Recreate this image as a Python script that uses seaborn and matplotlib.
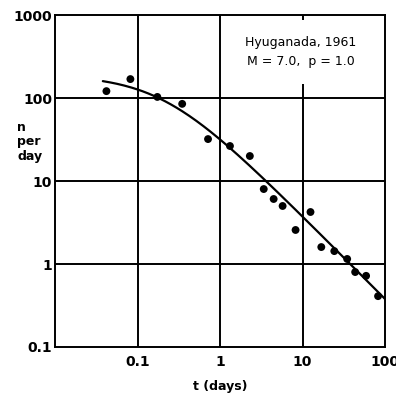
import numpy as np
import pandas as pd
import matplotlib
matplotlib.use("Agg")
import matplotlib.pyplot as plt
import seaborn as sns

# Aftershock counts per day after the 1961 Hyuganada earthquake
days = [0.042, 0.082, 0.174, 0.348, 0.716, 1.32, 2.3, 3.39, 4.47, 5.74,
        8.24, 12.5, 16.9, 24.3, 34.8, 43.5, 59.0, 82.4]
per_day = [121, 169, 103, 85, 32, 26.4, 20, 8.0, 6.07, 5.0,
           2.57, 4.23, 1.6, 1.43, 1.15, 0.80, 0.72, 0.41]

# Modified Omori law n(t) = K / (t + c)^p
omori_K = 38.0
omori_c = 0.20
omori_p = 1.0
curve_start, curve_end = 0.038, 100.0

x_ticks = [0.1, 1, 10, 100]
x_tick_labels = ["0.1", "1", "10", "100"]
y_ticks = [0.1, 1, 10, 100, 1000]
y_tick_labels = ["0.1", "1", "10", "100", "1000"]

sns.set_theme(style="white")
plt.rcParams["font.family"] = ["DejaVu Sans"]
plt.rcParams["text.color"] = "black"
plt.rcParams["axes.labelcolor"] = "black"

fig = plt.figure(figsize=(3.96, 3.96), dpi=100)
ax = fig.add_axes([55 / 396, 1 - 347 / 396, 330 / 396, 332 / 396])

pts = pd.DataFrame({"t": days, "n": per_day})
t_curve = np.logspace(np.log10(curve_start), np.log10(curve_end), 200)
fit = pd.DataFrame({"t": t_curve,
                    "n": omori_K / (t_curve + omori_c) ** omori_p})

ax.set_xscale("log")
ax.set_yscale("log")
ax.set_xlim(0.01, 100)
ax.set_ylim(0.1, 1000)

# grid lines at each decade
for xv in [0.1, 1, 10]:
    ax.axvline(xv, color="black", lw=1.4, zorder=1)
for yv in [1, 10, 100]:
    ax.axhline(yv, color="black", lw=1.4, zorder=1)

sns.lineplot(data=fit, x="t", y="n", ax=ax, color="black", lw=1.6,
             zorder=3, estimator=None)
sns.scatterplot(data=pts, x="t", y="n", ax=ax, color="black", s=32,
                edgecolor="none", zorder=4)

ax.set_xticks(x_ticks)
ax.set_xticklabels(x_tick_labels)
ax.set_yticks(y_ticks)
ax.set_yticklabels(y_tick_labels)
ax.minorticks_off()
ax.tick_params(axis="both", length=0, labelsize=10, colors="black")
ax.tick_params(axis="x", pad=6)
ax.tick_params(axis="y", pad=2)
for lab in ax.get_xticklabels() + ax.get_yticklabels():
    lab.set_fontweight("semibold")

for sp in ax.spines.values():
    sp.set_visible(True)
    sp.set_color("black")
    sp.set_linewidth(1.4)

ax.set_xlabel("t (days)", fontsize=9, fontweight="semibold", labelpad=8,
              color="black")
ax.set_ylabel("")

fig.text(17 / 396, 1 - 142 / 396, "n\nper\nday", ha="left", va="center",
         fontsize=9, fontweight="semibold", linespacing=1.15, color="black")

ax.text(0.745, 0.889, "Hyuganada, 1961\nM = 7.0,  p = 1.0",
        transform=ax.transAxes, ha="center", va="center", fontsize=9,
        linespacing=1.6, zorder=5, color="black",
        bbox=dict(boxstyle="square,pad=1.3", facecolor="white",
                  edgecolor="none"))

fig.savefig("out.png", dpi=100)
